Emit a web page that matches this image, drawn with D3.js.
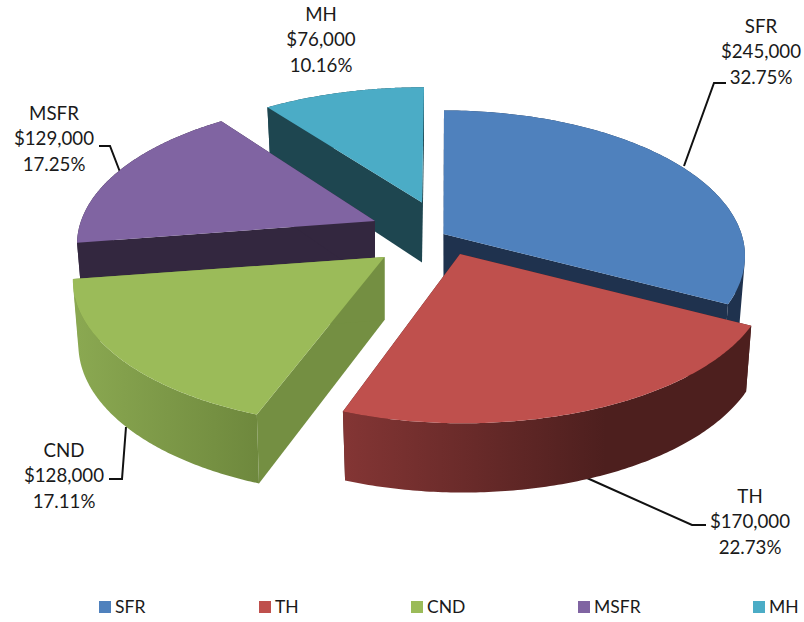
<!DOCTYPE html>
<html><head><meta charset="utf-8">
<script src="https://cdn.jsdelivr.net/npm/d3@7/dist/d3.min.js"></script>
<style>html,body{margin:0;padding:0;background:#fff}svg{display:block}text{font-family:Lato,"Open Sans",sans-serif;fill:#1a1a1a}</style>
</head><body><svg id="c" width="804" height="622"></svg>
<script>
// data
const categories = ["SFR","TH","CND","MSFR","MH"];
const values = [245000,170000,128000,129000,76000];
// colours
const topColors  = ["#4f81bd","#bf504d","#9bbb59","#8064a2","#4bacc6"];
const wallColors = ["#1f324e","#4f1f1e","#748f42","#33273f","#1e4650"];
const outerStops = [["#1f324e","#1f324e"],["#833534","#4d1f1e"],["#8aa851","#6e883d"],["#33273f","#33273f"],["#1e4650","#1e4650"]];
const gradSpan = [1,0.65,1,1,1];
// layout of the exploded slices
const apexX = [443.5,460,384.5,375,422];
const apexY = [234,254,257,221,202.5];
const arcDX = [0.5,3,-8.5,3,2];
const arcDY = [-1.5,0,0,0,0];
const widen = [1,1.015,1.007,1,1];
const tall  = [0.985,0.985,0.985,0.975,0.93];
const depth = [63,63,63,62,60];
const drawOrder = [4,0,3,2,1];
const RX = 297, RY = 144, K = 0.162;
const labelX = [761,750,64,54,321];
const labelY = [26,496,450,113,14];
const leaders = [
  [[684,166],[714,83],[726,83]],
  [[587,478],[692,525],[706,525]],
  [[126,427],[122,479],[109,479]],
  [[120,172],[110,146],[99,146]]
];
const legendX = [99,259,411,578,753];

const svg = d3.select("#c");
const pie = d3.pie().sort(null).value(d=>d);
const arcs = pie(values);
const total = d3.sum(values);
const money = d3.format("$,"), pct = d3.format(".2%");
const line = d3.line();

function project(i, a, h){
  const s=Math.sin(a), c=Math.cos(a), f=1+K*c;
  const shrink = 1-0.018*h;
  return [apexX[i]+arcDX[i]+widen[i]*RX*s/f*shrink,
          apexY[i]+arcDY[i]-tall[i]*RY*c/f+h*depth[i]*(1-0.1*c)];
}
function apex(i,h){ return [apexX[i],apexY[i]+h*depth[i]]; }
function arcPts(i,h){
  const a=arcs[i], n=120;
  return d3.range(n+1).map(j=>project(i,a.startAngle+(a.endAngle-a.startAngle)*j/n,h));
}
// the outer wall is the union of small quads, all wound the same way, so its silhouette is right
function outerWall(i){
  const t=arcPts(i,0), b=arcPts(i,1);
  return d3.range(t.length-1).map(j=>{
    const q=[t[j],t[j+1],b[j+1],b[j]];
    if(d3.polygonArea(q)<0) q.reverse();
    return line(q)+"Z";
  }).join("");
}

const defs = svg.append("defs");
outerStops.forEach((st,i)=>{
  const pts=arcPts(i,1), x0=d3.min(pts,d=>d[0]), x1=d3.max(pts,d=>d[0]);
  const g=defs.append("linearGradient").attr("id","g"+i).attr("gradientUnits","userSpaceOnUse")
    .attr("x1",x0).attr("x2",x0+(x1-x0)*gradSpan[i]).attr("y1",0).attr("y2",0);
  g.append("stop").attr("offset",0).attr("stop-color",st[0]);
  g.append("stop").attr("offset",1).attr("stop-color",st[1]);
});

// leader lines
svg.append("g").selectAll("path").data(leaders).join("path")
  .attr("d",d=>line(d)).attr("fill","none").attr("stroke","#111").attr("stroke-width",2);

// slices
const gs = svg.append("g").selectAll("g").data(drawOrder).join("g");
gs.each(function(i){
  const g=d3.select(this), a=arcs[i];
  [a.startAngle,a.endAngle].forEach(t=>{
    g.append("path").attr("d",line([apex(i,0),project(i,t,0),project(i,t,1),apex(i,1)])+"Z")
      .attr("fill",wallColors[i]);
  });
  g.append("path").attr("d",outerWall(i)).attr("fill","url(#g"+i+")");
  g.append("path").attr("d",line([apex(i,0)].concat(arcPts(i,0)))+"Z").attr("fill",topColors[i]);
});

// labels
categories.forEach((c,i)=>{
  const t=svg.append("text").attr("text-anchor","middle").attr("font-size",18.7);
  [c,money(values[i]),pct(values[i]/total)].forEach((s,j)=>{
    t.append("tspan").attr("x",labelX[i]).attr("y",labelY[i]+j*25.7).attr("dy","0.35em").text(s);
  });
});

// legend
const lg=svg.append("g").selectAll("g").data(categories).join("g")
  .attr("transform",(d,i)=>`translate(${legendX[i]},607)`);
lg.append("rect").attr("x",0).attr("y",-6).attr("width",12).attr("height",12).attr("fill",(d,i)=>topColors[i]);
lg.append("text").attr("x",16).attr("dy","0.35em").attr("font-size",17.5).text(d=>d);
</script></body></html>
